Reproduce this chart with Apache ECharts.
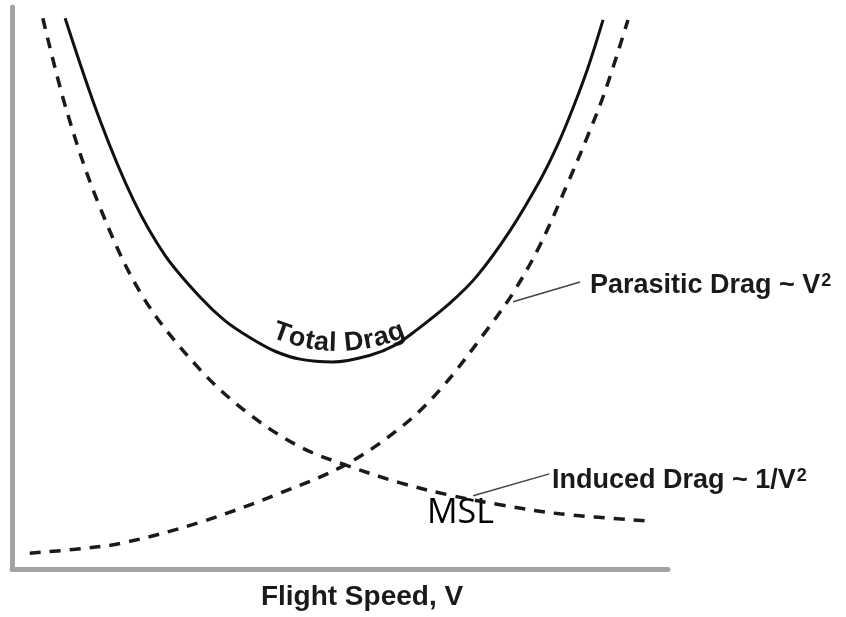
<!DOCTYPE html>
<html>
<head>
<meta charset="utf-8">
<script src="https://cdn.jsdelivr.net/npm/echarts@6/dist/echarts.min.js"></script>
<style>
  html, body { margin: 0; padding: 0; background: #fff; }
  #chart { width: 846px; height: 617px; }
</style>
</head>
<body>
<div id="chart"></div>
<script>
// speed (x) and drag (y) in 0-100 units
const totalX = [8.1, 13.4, 18.5, 23.3, 28.7, 32.5, 36.3, 40.1, 43.9, 48.9, 54.6, 58.4, 61.7,
  66.8, 70.9, 75.9, 80.5, 83.1, 85.5, 87.8, 90.1]
const totalY = [98.0, 79.9, 65.7, 55.9, 48.4, 44.2, 41.2, 38.8, 37.4, 36.9, 38.1, 39.9, 42.6,
  47.4, 52.2, 60.2, 69.2, 75.3, 82.0, 89.2, 97.7]

const inducedX = [4.7, 8.4, 13.4, 20.0, 28.7, 36.3, 43.9, 50.8, 59.2, 66.8, 74.4, 83.5, 97.3]
const inducedY = [98.0, 81.3, 64.4, 48.4, 35.5, 27.5, 21.8, 18.6, 15.4, 13.2, 11.5, 9.9, 8.6]

const parasiticX = [2.7, 9.6, 16.8, 28.7, 40.9, 50.8, 59.2, 65.2, 72.4, 76.4, 80.5, 84.8, 87.8, 90.4, 93.9]
const parasiticY = [2.9, 3.6, 4.7, 8.4, 13.6, 18.6, 25.2, 31.9, 42.6, 49.2, 57.7, 68.9, 77.2, 85.0, 97.7]

// leader lines from the curves to the labels
const parasiticLeaderX = [76.4, 86.6]
const parasiticLeaderY = [47.6, 51.1]
const inducedLeaderX = [70.3, 81.9]
const inducedLeaderY = [13.1, 17.0]

const pairs = (xs, ys) => xs.map((x, i) => [x, ys[i]])

const chart = echarts.init(document.getElementById('chart'))

const labelFont = 'bold 27px "Liberation Sans", Arial, sans-serif'
const supFont = 'bold 18px "Liberation Sans", Arial, sans-serif'
const ink = '#1a1a1a'
// 'bottom' aligns the descender, so push texts down to sit on the baseline
const desc = 6
const ctx = document.createElement('canvas').getContext('2d')
function textWidth(str, font) {
  ctx.font = font
  return ctx.measureText(str).width
}

// label with a superscript 2 at the end
function supLabel(str, left, baseline) {
  const w = textWidth(str, labelFont)
  return [
    { type: 'text', x: left, y: baseline + desc, style: { text: str, font: labelFont, fill: ink, textVerticalAlign: 'bottom' } },
    { type: 'text', x: left + w + 1, y: baseline - 21, style: { text: '2', font: supFont, fill: ink, textVerticalAlign: 'top' } }
  ]
}

// "Total Drag" written along a gentle arc inside the bowl
function arcText(str, startX) {
  const baseY = x => 351 - 0.0031 * (x - 338) * (x - 338)
  const slope = x => -0.0062 * (x - 338)
  const els = []
  let x = startX
  for (const ch of str) {
    const w = textWidth(ch, labelFont) + 0.6
    const ang = Math.atan(slope(x + w / 2))
    const cx = x + (w / 2) * Math.cos(ang)
    els.push({
      type: 'text', x: cx - desc * Math.sin(ang), y: baseY(cx) + desc * Math.cos(ang), rotation: -ang,
      style: { text: ch, font: labelFont, fill: ink, textAlign: 'center', textVerticalAlign: 'bottom' }
    })
    x += w * Math.cos(ang)
  }
  return els
}

const hidden = { show: false }
const axisCommon = {
  type: 'value', min: 0, max: 100,
  axisLine: { show: true, lineStyle: { color: '#a3a3a3', width: 5 } },
  axisTick: hidden, axisLabel: hidden, splitLine: hidden
}

const option = {
  animation: false,
  backgroundColor: '#fff',
  grid: { left: 12, right: 178, top: 7, bottom: 47.5 },
  xAxis: axisCommon,
  yAxis: axisCommon,
  series: [
    {
      name: 'Total Drag', type: 'line', smooth: 0.35, showSymbol: false, clip: false,
      data: pairs(totalX, totalY),
      lineStyle: { color: '#111', width: 3 }
    },
    {
      name: 'Induced Drag', type: 'line', smooth: 0.35, showSymbol: false, clip: false,
      data: pairs(inducedX, inducedY),
      lineStyle: { color: ink, width: 3.5, type: [11, 9] }
    },
    {
      name: 'Parasitic Drag', type: 'line', smooth: 0.35, showSymbol: false, clip: false,
      data: pairs(parasiticX, parasiticY),
      lineStyle: { color: ink, width: 3.5, type: [11, 9] }
    },
    {
      type: 'line', showSymbol: false, silent: true,
      data: pairs(parasiticLeaderX, parasiticLeaderY),
      lineStyle: { color: '#444', width: 1.5 }
    },
    {
      type: 'line', showSymbol: false, silent: true,
      data: pairs(inducedLeaderX, inducedLeaderY),
      lineStyle: { color: '#444', width: 1.5 }
    }
  ],
  graphic: [
    ...supLabel('Parasitic Drag ~ V', 590, 293),
    ...supLabel('Induced Drag ~ 1/V', 552, 488),
    ...arcText('Total Drag', 271),
    {
      type: 'text', x: 427, y: 530,
      style: { text: 'MSL', font: '34px "Open Sans", sans-serif', fill: '#000', textVerticalAlign: 'bottom' }
    },
    {
      type: 'text', x: 362, y: 605 + desc,
      style: { text: 'Flight Speed, V', font: 'bold 28px "Liberation Sans", Arial, sans-serif', fill: ink, textAlign: 'center', textVerticalAlign: 'bottom' }
    }
  ]
}

chart.setOption(option)
</script>
</body>
</html>
